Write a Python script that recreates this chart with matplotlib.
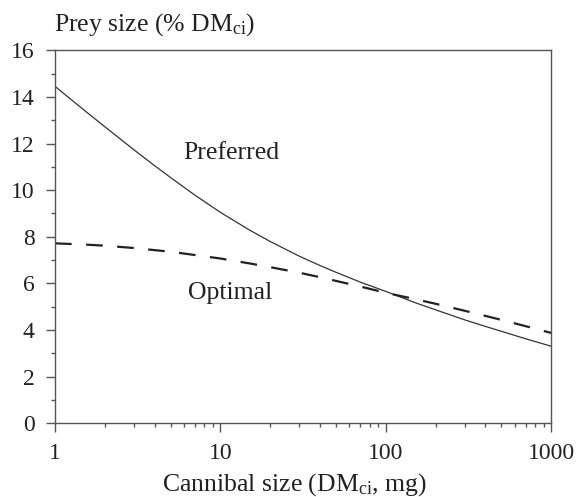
"""Prey size preferred vs optimal as a function of cannibal size."""
import matplotlib
matplotlib.use("Agg")
import matplotlib.pyplot as plt
from matplotlib.ticker import FixedLocator, LogLocator, NullFormatter

# cannibal size (mg)
cannibal_size = [1, 1.5, 2, 3, 4, 5, 7, 10, 15, 20, 30, 40, 50, 70,
                 100, 150, 200, 300, 400, 500, 700, 1000]
# prey size as % of cannibal dry mass
preferred = [14.45, 13.43, 12.72, 11.73, 11.05, 10.54, 9.79, 9.05, 8.29, 7.8,
             7.17, 6.77, 6.48, 6.06, 5.66, 5.18, 4.87, 4.44, 4.16, 3.95,
             3.63, 3.31]
optimal = [7.72, 7.67, 7.62, 7.52, 7.43, 7.36, 7.22, 7.07, 6.86, 6.7,
           6.46, 6.27, 6.11, 5.87, 5.6, 5.33, 5.13, 4.83, 4.61, 4.44,
           4.17, 3.88]

x_ticks = [1, 10, 100, 1000]
x_ticklabels = ["1", "10", "100", "1000"]
y_ticks = [0, 2, 4, 6, 8, 10, 12, 14, 16]

plt.rcParams["font.family"] = ["Liberation Serif", "DejaVu Serif"]
plt.rcParams["mathtext.fontset"] = "custom"
plt.rcParams["mathtext.rm"] = "Liberation Serif"
plt.rcParams["mathtext.it"] = "Liberation Serif:italic"

TXT = "#222222"
AX = "#555555"

fig = plt.figure(figsize=(5.79, 4.97), dpi=100)
ax = fig.add_axes([0.095, 0.148, 0.857, 0.751])

ax.plot(cannibal_size, preferred, color="#333333", lw=0.9)
line, = ax.plot(cannibal_size, optimal, color="#222222", lw=1.6)
line.set_dashes((7.5, 6.5))

ax.set_xscale("log")
ax.set_xlim(1, 1000)
ax.set_ylim(0, 16)
ax.set_xticks(x_ticks)
ax.set_xticklabels(x_ticklabels)
ax.xaxis.set_minor_locator(LogLocator(base=10, subs=range(2, 10)))
ax.xaxis.set_minor_formatter(NullFormatter())
ax.set_yticks(y_ticks)
ax.yaxis.set_minor_locator(FixedLocator(range(1, 16, 2)))

for s in ax.spines.values():
    s.set_color(AX)
    s.set_linewidth(1.0)
ax.tick_params(which="both", direction="out", color=AX, top=False, right=False)
ax.tick_params(which="major", length=6.5, width=1.0, labelsize=17, labelcolor=TXT)
ax.tick_params(axis="x", which="major", pad=7.5)
ax.tick_params(axis="y", which="major", pad=8)
ax.tick_params(which="minor", length=3, width=1.0)

ax.set_xlabel(r"Cannibal size (DM$_{\mathrm{ci}}$, mg)", fontsize=18.5, color=TXT)
ax.xaxis.set_label_coords(0.482, -0.128, transform=ax.transAxes)
ax.xaxis.label.set_va("top")
fig.text(0.094, 0.95, r"Prey size (% DM$_{\mathrm{ci}}$)", fontsize=18.5, color=TXT,
         ha="left", va="center")

ax.text(11.7, 11.6, "Preferred", fontsize=18.5, color=TXT, ha="center", va="center")
ax.text(11.4, 5.58, "Optimal", fontsize=18.5, color=TXT, ha="center", va="center")

fig.savefig("out.png", dpi=100)
